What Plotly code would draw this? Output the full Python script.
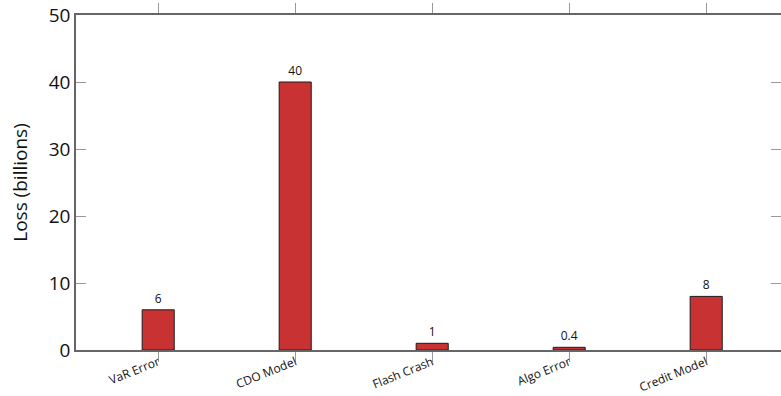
import plotly.graph_objects as go

categories = ["VaR Error", "CDO Model", "Flash Crash", "Algo Error", "Credit Model"]
losses = [6, 40, 1, 0.4, 8]
labels = ["6", "40", "1", "0.4", "8"]
y_ticks = [0, 10, 20, 30, 40, 50]

FONT = "Open Sans"

fig = go.Figure()
fig.add_trace(go.Bar(
    x=list(range(len(categories))),
    y=losses,
    width=0.234,
    marker=dict(color="#C83232", line=dict(color="#1a1a1a", width=1)),
    text=labels,
    textposition="outside",
    textfont=dict(family=FONT, size=12, color="#111"),
    cliponaxis=False,
))

fig.update_layout(
    width=781, height=396,
    margin=dict(l=76, r=0, t=15, b=46),
    plot_bgcolor="white", paper_bgcolor="white",
    showlegend=False,
    font=dict(family=FONT, color="#111"),
)
fig.update_xaxes(
    automargin=False,
    range=[-0.6, 4.546],
    tickmode="array",
    tickvals=list(range(len(categories))),
    ticktext=categories,
    tickangle=-22,
    tickfont=dict(family=FONT, size=12, color="#111"),
    ticklabelstandoff=-11,
    ticks="outside", ticklen=10, tickcolor="#999", tickwidth=1,
    showline=True, linecolor="#666", linewidth=1.5, mirror="ticks",
    showgrid=False, zeroline=False,
)
fig.update_yaxes(
    automargin=False,
    range=[0, 50],
    tickmode="array",
    tickvals=y_ticks,
    tickfont=dict(family=FONT, size=19, color="#111"),
    ticks="inside", ticklen=10, tickcolor="#999", tickwidth=1,
    showline=True, linecolor="#666", linewidth=1.5, mirror="ticks",
    showgrid=False, zeroline=False,
    title=dict(text="Loss (billions)", font=dict(family=FONT, size=19, color="#111"), standoff=16),
)

fig.write_html("out.html", config={"displayModeBar": False},
               post_script="document.body.style.margin='0';")
